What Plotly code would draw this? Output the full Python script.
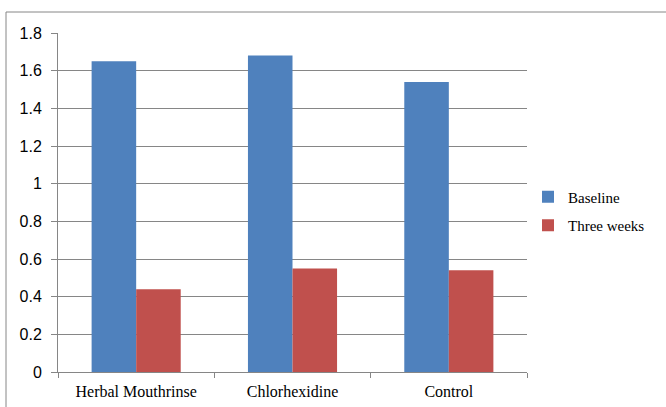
import plotly.graph_objects as go

categories = ["Herbal Mouthrinse", "Chlorhexidine", "Control"]
baseline = [1.65, 1.68, 1.54]
three_weeks = [0.44, 0.55, 0.54]
y_ticks = [0, 0.2, 0.4, 0.6, 0.8, 1, 1.2, 1.4, 1.6, 1.8]
y_labels = ["0", "0.2", "0.4", "0.6", "0.8", "1", "1.2", "1.4", "1.6", "1.8"]

W, H = 666, 407
L, R, T, B = 58, 139, 33, 35
pw, ph = W - L - R, H - T - B

fig = go.Figure()
fig.add_trace(go.Bar(name="Baseline", x=categories, y=baseline, marker_color="#4F81BD",
                     marker_line_width=0, legendgroup="a"))
fig.add_trace(go.Bar(name="Three weeks", x=categories, y=three_weeks, marker_color="#C0504D",
                     marker_line_width=0, legendgroup="b"))

def px_x(x):
    return (x - L) / pw

def px_y(y):
    return (H - B - y) / ph

fig.update_layout(
    width=W, height=H,
    margin=dict(l=L, r=R, t=T, b=B, autoexpand=False),
    paper_bgcolor="white", plot_bgcolor="white",
    barmode="group", bargap=0.43, bargroupgap=0,
    showlegend=True,
    legend=dict(x=px_x(528), y=px_y(211), xanchor="left", yanchor="middle",
                font=dict(family="Liberation Serif", size=15, color="#000000"),
                itemwidth=30, traceorder="grouped", tracegroupgap=6,
                bgcolor="rgba(0,0,0,0)"),
    xaxis=dict(showgrid=False, showline=True, linecolor="#868686", linewidth=1,
               ticks="outside", tickson="boundaries", ticklen=5, tickcolor="#868686",
               ticklabelstandoff=5,
               tickfont=dict(family="Liberation Serif", size=16, color="#000000")),
    yaxis=dict(range=[0, 1.8], tickvals=y_ticks, ticktext=y_labels,
               showgrid=True, gridcolor="#868686", gridwidth=1,
               showline=True, linecolor="#868686", linewidth=1,
               ticks="outside", ticklen=6, tickcolor="#868686", ticklabelstandoff=6,
               tickfont=dict(family="Liberation Sans", size=16, color="#000000"),
               zeroline=False),
    shapes=[dict(type="rect", xref="paper", yref="paper",
                 x0=px_x(6), x1=px_x(720), y0=px_y(440), y1=px_y(12),
                 line=dict(color="#868686", width=1), fillcolor="rgba(0,0,0,0)", layer="below")],
)

fig.write_html("out.html", config={"displayModeBar": False},
               post_script="document.body.style.margin='0';document.body.style.overflow='hidden';")
